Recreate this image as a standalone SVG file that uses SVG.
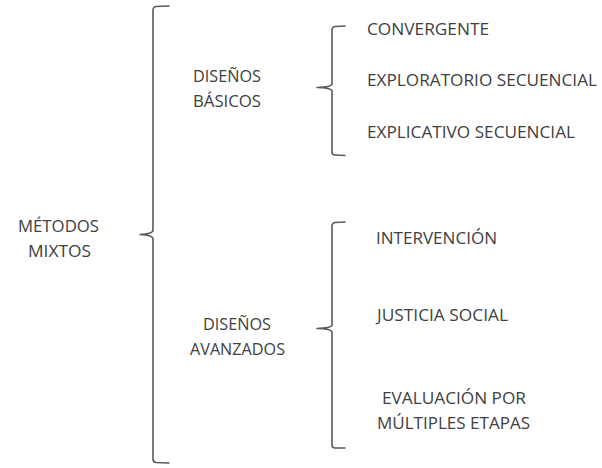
<svg xmlns="http://www.w3.org/2000/svg" width="602" height="468" viewBox="0 0 602 468">
<style>
text{font-family:"Open Sans","Liberation Sans",sans-serif;font-size:16px;fill:#404040}
.br{fill:none;stroke:#5a5a5a;stroke-width:1.6;stroke-linejoin:round;stroke-linecap:round}
</style>
<rect width="602" height="468" fill="#ffffff"/>
<g id="connectors">
<path class="br" d="M169,6 L156,6.5 Q153,7 153,10 L153,230 Q153,234 140,234.5 Q153,235 153,239 L153,459 Q153,462 156,462.5 L169,463"/>
<path class="br" d="M345,26 L335,26.5 Q332,27 332,30 L332,84 Q332,87 317,87.5 Q332,88 332,91 L332,152 Q332,155 335,155 L345,155.5"/>
<path class="br" d="M345,222 L335,222.5 Q332,223 332,226 L332,325 Q332,328 317,328.5 Q332,329 332,332 L332,445 Q332,448 335,448 L345,448"/>
</g>
<g id="metodos-mixtos">
<text x="18" y="232" textLength="81" lengthAdjust="spacingAndGlyphs">MÉTODOS</text>
<text x="28" y="257" textLength="63" lengthAdjust="spacingAndGlyphs">MIXTOS</text>
</g>
<g id="disenos-basicos">
<text x="193" y="82" textLength="68" lengthAdjust="spacingAndGlyphs">DISEÑOS</text>
<text x="193" y="107" textLength="68" lengthAdjust="spacingAndGlyphs">BÁSICOS</text>
</g>
<g id="disenos-avanzados">
<text x="203" y="330" textLength="68" lengthAdjust="spacingAndGlyphs">DISEÑOS</text>
<text x="190" y="355" textLength="95" lengthAdjust="spacingAndGlyphs">AVANZADOS</text>
</g>
<g id="convergente">
<text x="367" y="35" textLength="122" lengthAdjust="spacingAndGlyphs">CONVERGENTE</text>
</g>
<g id="exploratorio">
<text x="367" y="86" textLength="230" lengthAdjust="spacingAndGlyphs">EXPLORATORIO SECUENCIAL</text>
</g>
<g id="explicativo">
<text x="367" y="138" textLength="208" lengthAdjust="spacingAndGlyphs">EXPLICATIVO SECUENCIAL</text>
</g>
<g id="intervencion">
<text x="376" y="244" textLength="121" lengthAdjust="spacingAndGlyphs">INTERVENCIÓN</text>
</g>
<g id="justicia-social">
<text x="377" y="321" textLength="131" lengthAdjust="spacingAndGlyphs">JUSTICIA SOCIAL</text>
</g>
<g id="evaluacion">
<text x="382" y="404" textLength="144" lengthAdjust="spacingAndGlyphs">EVALUACIÓN POR</text>
<text x="377" y="429" textLength="153" lengthAdjust="spacingAndGlyphs">MÚLTIPLES ETAPAS</text>
</g>
</svg>
